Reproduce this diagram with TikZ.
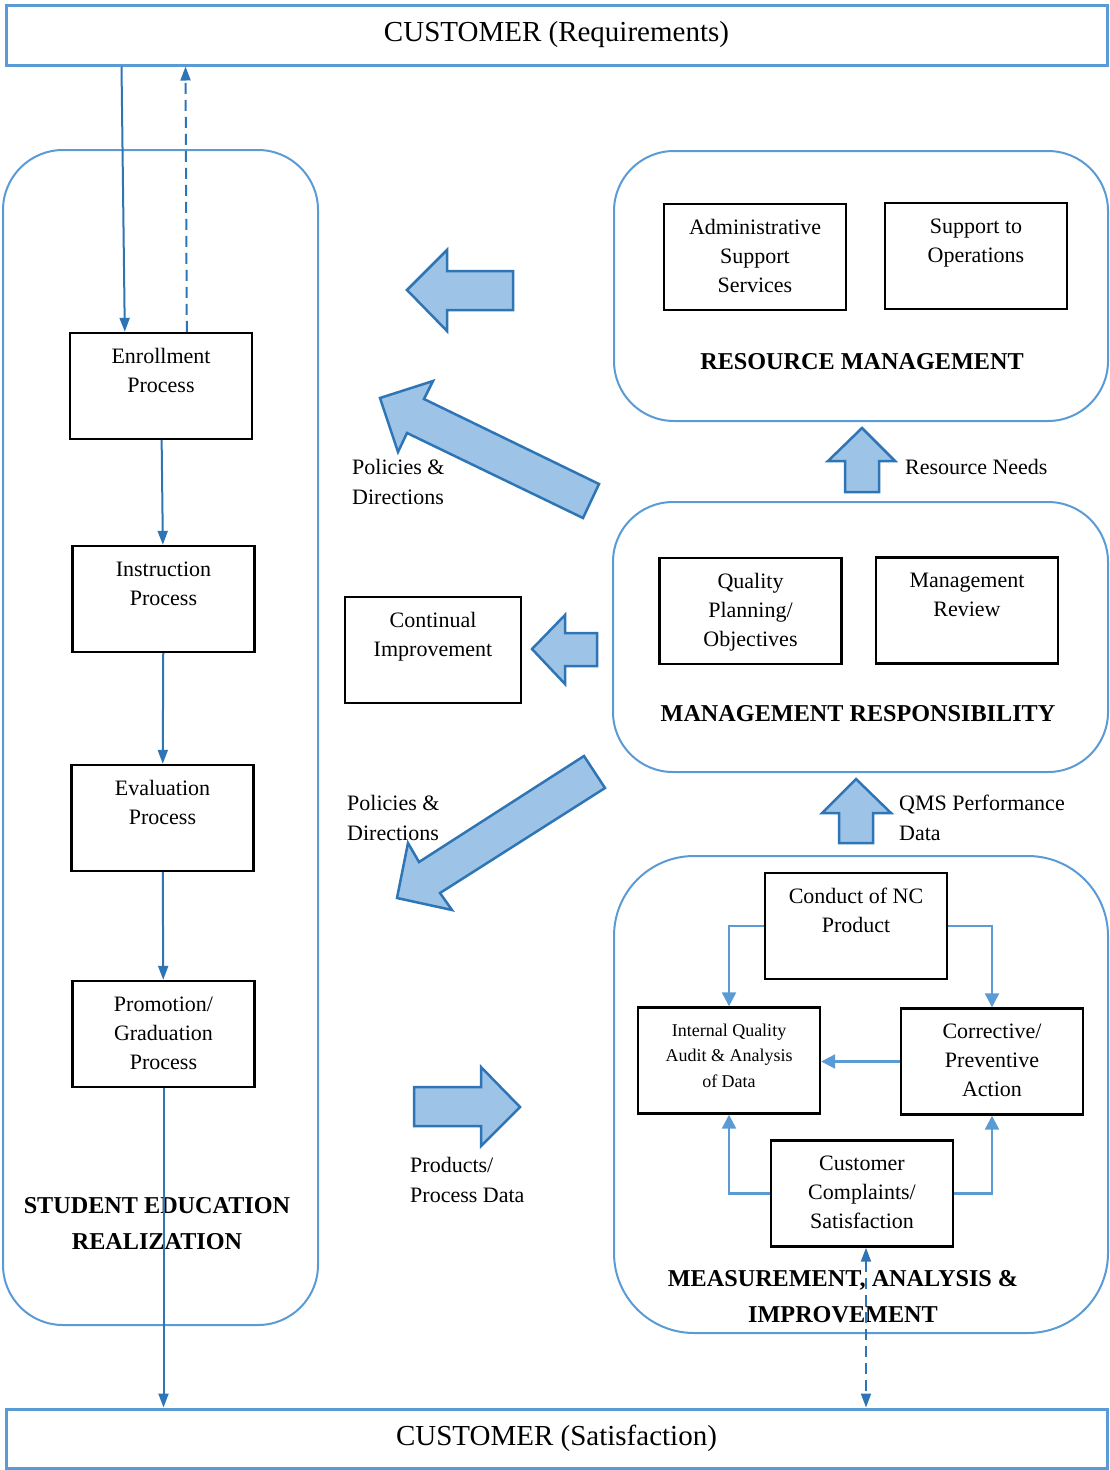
\documentclass[tikz,border=0pt]{standalone}
\usepackage{fontspec}
\setmainfont{Liberation Serif}
\usepackage{tikz}
\usetikzlibrary{arrows.meta,calc}
\definecolor{groupblue}{RGB}{91,155,213}
\definecolor{lineblue}{RGB}{46,117,182}
\definecolor{fillblue}{RGB}{157,195,230}
\newcommand{\boxtxt}[1]{\parbox[c][106pt][t]{176pt}{\centering\fontsize{22}{29}\selectfont\vspace{10pt}\strut#1}}
\tikzset{procbox/.style={draw,line width=2.4pt,inner sep=0pt,minimum width=182pt,minimum height=106pt}}
\tikzset{groupbox/.style={draw=groupblue,line width=2pt,rounded corners=60pt}}
\tikzset{custbox/.style={draw=groupblue,line width=3pt,minimum width=1101pt,minimum height=60pt,font=\fontsize{29}{35}\selectfont}}
\tikzset{flow/.style={draw=lineblue,line width=2pt,-{Triangle[length=14pt,width=10pt]}}}
\tikzset{subflow/.style={draw=groupblue,line width=2.4pt,-{Triangle[length=14pt,width=14pt]}}}
\tikzset{fatarrow/.style={fill=fillblue,draw=lineblue,line width=2.5pt,line join=miter}}
\tikzset{title/.style={font=\fontsize{24.2}{36}\selectfont\bfseries,align=center}}
\tikzset{lbl/.style={font=\fontsize{22}{30}\selectfont,align=left,inner sep=0pt}}

\begin{document}
\begin{tikzpicture}[x=1pt,y=-1pt]
    \useasboundingbox (0,0) rectangle (1109,1470);
    % customer bars
    \node[custbox] (topcust) at (556.5,35) {CUSTOMER (Requirements)};
    \node[custbox,minimum height=59pt] (botcust) at (556.5,1438.5) {CUSTOMER (Satisfaction)};
    % process groups
    \node[groupbox,minimum width=315pt,minimum height=1175pt] (realize) at (160.5,737.5) {};
    \node[groupbox,minimum width=494pt,minimum height=270pt] (resmgmt) at (861,286) {};
    \node[groupbox,minimum width=495pt,minimum height=270pt] (mgmtresp) at (860.5,637) {};
    \node[groupbox,rounded corners=80pt,minimum width=494pt,minimum height=477pt] (measure) at (861,1094.5) {};
    \node[title] at (157,1224) {STUDENT EDUCATION\\REALIZATION};
    \node[title] at (862,362) {RESOURCE MANAGEMENT};
    \node[title] at (858,714) {MANAGEMENT RESPONSIBILITY};
    \node[title] at (843,1297) {MEASUREMENT, ANALYSIS \&\\IMPROVEMENT};
    % realization steps
    \node[procbox] (enroll) at (161,386) {\boxtxt{Enrollment\\Process}};
    \node[procbox] (instr) at (163.5,599) {\boxtxt{Instruction\\Process}};
    \node[procbox] (eval) at (162.5,818) {\boxtxt{Evaluation\\Process}};
    \node[procbox] (promo) at (163.5,1034) {\boxtxt{Promotion/\\Graduation\\Process}};
    % resources and management
    \node[procbox] (admin) at (755,257) {\boxtxt{Administrative\\Support\\Services}};
    \node[procbox] (supp) at (976,256) {\boxtxt{Support to\\Operations}};
    \node[procbox] (qual) at (750.5,611) {\boxtxt{Quality\\Planning/\\Objectives}};
    \node[procbox] (mrev) at (967,610.5) {\boxtxt{Management\\Review}};
    \node[procbox,minimum width=174pt] (cimp) at (433,650) {\boxtxt{Continual\\Improvement}};
    % measurement loop
    \node[procbox] (ncprod) at (856,926) {\boxtxt{Conduct of NC\\Product}};
    \node[procbox] (iqa) at (729,1060.5) {\parbox[c][106pt][t]{176pt}{\centering\fontsize{18}{25.5}\selectfont\vspace{11pt}\strut Internal Quality\\Audit \& Analysis\\of Data}};
    \node[procbox] (cpa) at (992,1061.5) {\boxtxt{Corrective/\\Preventive\\Action}};
    \node[procbox] (ccs) at (862,1193.5) {\boxtxt{Customer\\Complaints/\\Satisfaction}};
    % big arrows
    \draw[fatarrow] (407,290) -- (447,250) -- (447,271) -- (513,271) -- (513,310) -- (447,310) -- (447,331) -- cycle;
    \draw[fatarrow] (380,398) -- (433,381) -- (424,399) -- (599,484) -- (583,518) -- (407,433) -- (398,452) -- cycle;
    \draw[fatarrow] (532,649) -- (565,615) -- (565,633) -- (597,633) -- (597,666) -- (565,666) -- (565,684) -- cycle;
    \draw[fatarrow] (397,898) -- (408,843) -- (419,862) -- (584,756) -- (605,788) -- (440,893) -- (452,910) -- cycle;
    \draw[fatarrow] (520,1107) -- (481,1067) -- (481,1087) -- (414,1087) -- (414,1126) -- (481,1126) -- (481,1146) -- cycle;
    \draw[fatarrow] (862,428) -- (895,461) -- (879,461) -- (879,492) -- (845,492) -- (845,461) -- (828,461) -- cycle;
    \draw[fatarrow] (856,779) -- (891,813) -- (873,813) -- (873,843) -- (839,843) -- (839,813) -- (822,813) -- cycle;
    \node[lbl,anchor=north west] (pol1) at (352,459) {Policies \&\\Directions};
    \node[lbl,anchor=north west] (pol2) at (347,795) {Policies \&\\Directions};
    \node[lbl,anchor=west] (resneed) at (905,467) {Resource Needs};
    \node[lbl,anchor=north west] (qmsdata) at (899,795) {QMS Performance\\Data};
    \node[lbl,anchor=north west] (proddata) at (410,1157) {Products/\\Process Data};
    % flow through the realization column
    \draw[flow] ($(topcust.south west)+(117,0)$) -- ($(enroll.north west)+(56,0)$);
    \draw[flow,dash pattern=on 11pt off 6pt] ($(enroll.north west)+(118,0)$) -- ($(topcust.south west)+(181,0)$);
    \draw[flow] (enroll) -- (instr);
    \draw[flow] (instr) -- (eval);
    \draw[flow] (eval) -- (promo);
    \draw[flow] (promo.south) -- (promo.south |- botcust.north);
    \draw[flow,{Triangle[length=14pt,width=10pt]}-{Triangle[length=14pt,width=10pt]},dash pattern=on 11pt off 6pt] ([xshift=4pt]ccs.south) -- ([xshift=4pt]ccs.south |- botcust.north);
    % loop inside measurement
    \draw[subflow] (ncprod.west) -| (iqa.north);
    \draw[subflow] (ncprod.east) -| (cpa.north);
    \draw[subflow] (cpa.west) -- (cpa.west -| iqa.east);
    \draw[subflow] (ccs.west) -| (iqa.south);
    \draw[subflow] (ccs.east) -| (cpa.south);
\end{tikzpicture}
\end{document}
